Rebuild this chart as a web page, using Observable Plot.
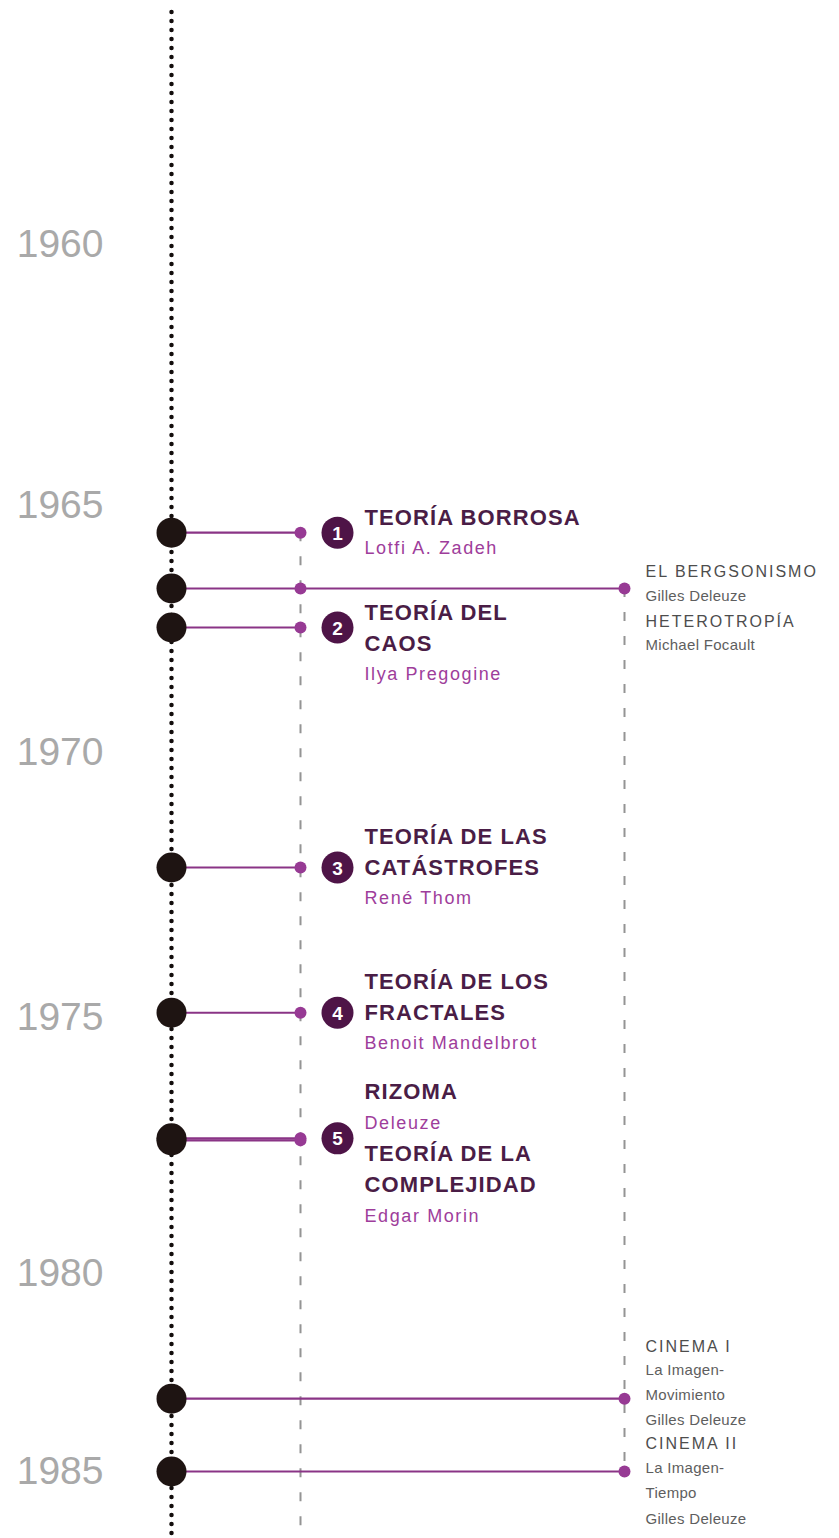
<!DOCTYPE html>
<html>
<head>
<meta charset="utf-8">
<script src="https://cdn.jsdelivr.net/npm/d3@7"></script>
<script src="https://cdn.jsdelivr.net/npm/@observablehq/plot@0.6"></script>
<style>
  html, body { margin: 0; padding: 0; background: #ffffff; overflow: hidden; }
  #chart svg { display: block; }
  .mid-t text { letter-spacing: 1.1px; }
  .mid-a text { letter-spacing: 1.6px; }
  .far-t text { letter-spacing: 2px; }
  .far-a text { letter-spacing: 0.3px; }
</style>
</head>
<body>
<div id="chart"></div>
<script>
// ---- data -------------------------------------------------------------
const yearTicks   = [1960, 1965, 1970, 1975, 1980, 1985];
const eventYears  = [1965.55, 1966.68, 1967.47, 1972.17, 1974.91, 1977.36, 1977.40, 1983.16, 1985.0];
const eventReach  = ["mid", "far", "mid", "mid", "mid", "mid", "mid", "far", "far"];
const eventStops  = [["mid"], ["mid", "far"], ["mid"], ["mid"], ["mid"], ["mid"], ["mid"], ["far"], ["far"]];
const eventNumber = [1, null, 2, 3, 4, 5, null, null, null];

const midBlockEvent = [0, 2, 3, 4, 5];
const midBlocks = [
  [["t", "TEORÍA BORROSA"], ["a", "Lotfi A. Zadeh"]],
  [["t", "TEORÍA DEL"], ["t", "CAOS"], ["a", "Ilya Pregogine"]],
  [["t", "TEORÍA DE LAS"], ["t", "CATÁSTROFES"], ["a", "René Thom"]],
  [["t", "TEORÍA DE LOS"], ["t", "FRACTALES"], ["a", "Benoit Mandelbrot"]],
  [["t", "RIZOMA"], ["a", "Deleuze"], ["t", "TEORÍA DE LA"], ["t", "COMPLEJIDAD"], ["a", "Edgar Morin"]]
];
const farBlockEvent = [1, 7, 8];
const farBlocks = [
  [["t", "EL BERGSONISMO"], ["a", "Gilles Deleuze"], ["t", "HETEROTROPÍA"], ["a", "Michael Focault"]],
  [["t", "CINEMA I"], ["a", "La Imagen-"], ["a", "Movimiento"], ["a", "Gilles Deleuze"]],
  [["t", "CINEMA II"], ["a", "La Imagen-"], ["a", "Tiempo"], ["a", "Gilles Deleuze"]]
];

// ---- layout -----------------------------------------------------------
const col = {axis: 0, mid: 1, far: 2};
const midShift = [0, 0.5, 0, 0, 0.5];
const farShift = [-0.7, -2.1, -1.1];
const midLH = 31, farLH = 25;
const FONT = "'Liberation Sans', Arial, Helvetica, sans-serif";

const events = eventYears.map((year, i) => ({year, reach: eventReach[i], num: eventNumber[i]}));
const stops = eventStops.flatMap((s, i) => s.map(c => ({year: eventYears[i], c})));
const numbered = events.filter(d => d.num != null);

const midLines = midBlocks.flatMap((b, k) => b.map(([kind, text], i) => ({
  year: eventYears[midBlockEvent[k]], kind, text,
  off: Math.round((i - (b.length - 1) / 2 + midShift[k]) * midLH)
})));
const farLines = farBlocks.flatMap((b, k) => b.map(([kind, text], i) => ({
  year: eventYears[farBlockEvent[k]], kind, text,
  off: Math.round((i + farShift[k]) * farLH)
})));

function lineMarks(lines, column, dx, styles, prefix) {
  const groups = d3.groups(lines, d => d.kind + "|" + d.off);
  return groups.map(([key, rows]) => {
    const kind = rows[0].kind, off = rows[0].off;
    return Plot.text(rows, {
      x: () => col[column], y: "year", text: "text",
      dx, dy: off, textAnchor: "start", lineAnchor: "middle",
      className: prefix + "-" + kind,
      ...styles[kind]
    });
  });
}

const midStart = d3.min(events.filter((d, i) => eventStops[i].includes("mid")), d => d.year);
const farYears = events.filter((d, i) => eventStops[i].includes("far")).map(d => d.year);

const chart = Plot.plot({
  width: 839,
  height: 1538,
  marginTop: 12, marginBottom: 0, marginLeft: 0, marginRight: 0,
  style: {fontFamily: FONT, background: "#ffffff"},
  x: {type: "linear", domain: [0, 1, 2], range: [171, 300, 624], axis: null},
  y: {type: "linear", domain: yearTicks, range: [244, 505, 752, 1017, 1273, 1471], axis: null},
  marks: [
    // dashed guides
    Plot.ruleX([col.mid], {x: d => d, y1: () => midStart, y2: () => 1990,
      stroke: "#949494", strokeWidth: 2, strokeDasharray: "9,15"}),
    Plot.ruleX([col.far], {x: d => d, y1: () => d3.min(farYears), y2: () => d3.max(farYears),
      stroke: "#949494", strokeWidth: 2, strokeDasharray: "9,15"}),
    // dotted timeline axis
    Plot.ruleX([col.axis], {x: d => d, stroke: "#120d0c", strokeWidth: 4.5,
      strokeDasharray: "0,9", strokeLinecap: "round"}),
    // year labels
    Plot.text(yearTicks, {x: () => col.axis, y: d => d, text: d => String(d),
      dx: -68, textAnchor: "end", fontSize: 39, fill: "#a9a9a9"}),
    // connectors
    Plot.link(events, {x1: () => col.axis, x2: d => col[d.reach], y1: "year", y2: "year",
      stroke: "#8a3486", strokeWidth: 2.2}),
    // small purple stops
    Plot.dot(stops, {x: d => col[d.c], y: "year", r: 6, fill: "#973a94"}),
    // big black event dots
    Plot.dot(events, {x: () => col.axis, y: "year", r: 15, fill: "#1e1412"}),
    // numbered circles
    Plot.dot(numbered, {x: () => col.mid, y: "year", dx: 37, r: 16, fill: "#4e1447"}),
    Plot.text(numbered, {x: () => col.mid, y: "year", dx: 37, dy: 1, text: d => String(d.num),
      fill: "#ffffff", fontWeight: "bold", fontSize: 19}),
    // labels
    ...lineMarks(midLines, "mid", 64, {
      t: {fill: "#4a1d46", fontWeight: "bold", fontSize: 22},
      a: {fill: "#9e3d9b", fontSize: 18}
    }, "mid"),
    ...lineMarks(farLines, "far", 21, {
      t: {fill: "#4d4d4d", fontSize: 16},
      a: {fill: "#5e5e5e", fontSize: 15}
    }, "far")
  ]
});
document.getElementById("chart").appendChild(chart);
</script>
</body>
</html>
